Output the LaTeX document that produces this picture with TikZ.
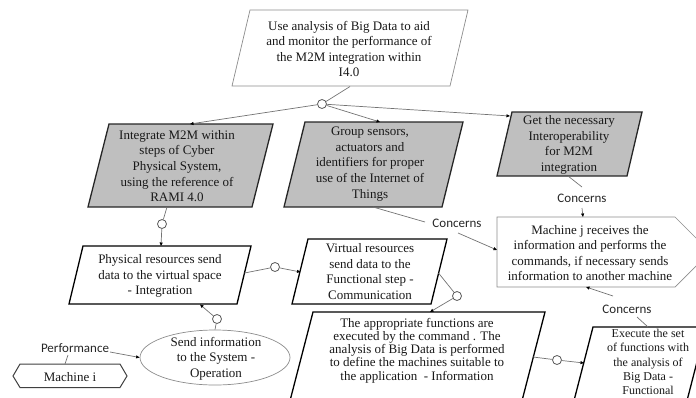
\documentclass[tikz,border=0pt]{standalone}
\usepackage{fontspec}
\setmainfont{Liberation Serif}
\newfontfamily\carlfont{Carlito}
\usetikzlibrary{arrows.meta,shapes.geometric}
\definecolor{boxgray}{RGB}{191,191,191}
\begin{document}
\begin{tikzpicture}[x=1pt,y=-1pt,
  txt/.style={align=center, inner sep=0pt, font=\fontsize{13}{15.6}\selectfont, text=black!90},
  gbox/.style={fill=boxgray, draw=black!85, line width=1.3pt, line join=miter},
  wbox/.style={fill=white, draw=black, line width=1.3pt},
  lbox/.style={fill=white, draw=black!45, line width=0.7pt},
  conn/.style={draw=black!55, line width=0.7pt},
  arr/.style={conn, -{Triangle[length=3.5pt,width=3pt,color=black]}},
  junc/.style={circle, draw=black!65, fill=white, line width=0.8pt, minimum size=9pt, inner sep=0pt},
  lab/.style={font=\carlfont\fontsize{13}{15}\selectfont, inner sep=1pt, text=black!85}
]
\useasboundingbox (0,0) rectangle (696,397);
\clip (0,0) rectangle (696,397);

% ---------- boxes ----------
\draw[lbox] (250,10) -- (468,10) -- (450,86) -- (232,86) -- cycle;
\node[txt] (top) at (349,49) {Use analysis of Big Data to aid\\and monitor the performance of\\the M2M integration within\\I4.0};

\draw[gbox] (109,124) -- (273,124) -- (252,207) -- (88,207) -- cycle;
\node[txt] (b1) at (177,166) {Integrate M2M within\\steps of Cyber\\Physical System,\\using the reference of\\RAMI 4.0};

\draw[gbox] (305,122) -- (463,122) -- (442,207) -- (284,207) -- cycle;
\node[txt] (b2) at (370,164) {Group sensors,\\actuators and\\identifiers for proper\\use of the Internet of\\Things};

\draw[gbox] (512,112) -- (642,112) -- (627,176) -- (497,176) -- cycle;
\node[txt] (b3) at (569,145) {Get the necessary\\Interoperability\\for M2M\\integration};

\draw[wbox] (83,246) -- (251,246) -- (237,304) -- (69,304) -- cycle;
\node[txt] (b4) at (160,276) {Physical resources send\\data to the virtual space\\- Integration};

\draw[wbox] (308,239) -- (447,239) -- (431,304) -- (292,304) -- cycle;
\node[txt] (b5) at (370,271.5) {Virtual resources\\send data to the\\Functional step -\\Communication};

\draw[wbox] (313,312) -- (545,312) -- (517,420) -- (285,420) -- cycle;
\node[txt, font=\fontsize{13}{13.2}\selectfont] (b6) at (417,350.5) {The appropriate functions are\\executed by the command . The\\analysis of Big Data is performed\\to define the machines suitable to\\the application \ - Information};

\draw[wbox] (593,327) -- (706,327) -- (682,420) -- (569,420) -- cycle;
\node[txt, font=\fontsize{12}{14.3}\selectfont] (b7) at (648,362) {Execute the set\\of functions with\\the analysis of\\Big Data -\\Functional};

\draw[lbox] (497,217) -- (675,217) -- (710,252) -- (675,287) -- (497,287) -- cycle;
\node[txt] (mj) at (590,253) {Machine j receives the\\information and performs the\\commands, if necessary sends\\information to another machine};

\node[lbox, ellipse, minimum width=150pt, minimum height=55pt, inner sep=0pt] (ell) at (215,357.5) {};
\node[txt] (ellt) at (216,358.5) {Send information\\to the System -\\Operation};

\draw[fill=white, draw=black!75, line width=1pt] (13,376) -- (20,364) -- (120,364) -- (127,376) -- (120,387.5) -- (20,387.5) -- cycle;
\node[txt] (mi) at (70,377) {Machine i};

% ---------- labels ----------
\node[lab] (c1) at (457,223) {Concerns};
\node[lab] (c2) at (582,198) {Concerns};
\node[lab] (c3) at (627,309) {Concerns};
\node[lab] (perf) at (75,348) {Performance};

% ---------- junctions ----------
\node[junc] (J1) at (322,104) {};
\node[junc] (J2) at (162,224) {};
\node[junc] (J3) at (275,267) {};
\node[junc] (J4) at (457,296) {};
\node[junc] (J5) at (557,360) {};
\node[junc] (J6) at (217,319) {};

% ---------- connector end points ----------
\coordinate (topS) at (350,86.5);
\coordinate (b1N) at (190,124);
\coordinate (b2N) at (380,122);
\coordinate (b3W) at (510,116);
\coordinate (b1S) at (167,207);
\coordinate (b4N) at (161,246);
\coordinate (b4E) at (244.5,273);
\coordinate (b5W) at (300.5,272);
\coordinate (b5E) at (438.5,273);
\coordinate (b6N) at (430,312);
\coordinate (b6E) at (533,357);
\coordinate (b7W) at (584,363);
\coordinate (b4S) at (200,304.5);
\coordinate (miN) at (65,364);
\coordinate (perfS) at (68,355);
\coordinate (perfE) at (110,352);
\coordinate (b2S) at (373,207);
\coordinate (c1W) at (425,222);
\coordinate (c1S) at (458,233);
\coordinate (mjW) at (497,250);
\coordinate (b3S) at (568,176);
\coordinate (c2N) at (582,187);
\coordinate (c2S) at (582,208);
\coordinate (mjN) at (583,217);
\coordinate (b7N) at (648,327);
\coordinate (c3E) at (637,317);
\coordinate (c3N) at (613,296);
\coordinate (mjS) at (586,287);

% ---------- connectors ----------
\draw[conn] (topS) -- (J1);
\draw[arr] (J1) -- (b1N);
\draw[arr] (J1) -- (b2N);
\draw[arr] (J1) -- (b3W);
\draw[conn] (b1S) -- (J2);
\draw[arr] (J2) -- (b4N);
\draw[conn] (b4E) -- (J3);
\draw[arr] (J3) -- (b5W);
\draw[conn] (b5E) -- (J4);
\draw[arr] (J4) -- (b6N);
\draw[conn] (b6E) -- (J5);
\draw[arr] (J5) -- (b7W);
\draw[conn] (ell.north) -- (J6);
\draw[arr] (J6) -- (b4S);
\draw[conn] (miN) -- (perfS);
\draw[arr] (perfE) -- (ell.west);
\draw[conn] (b2S) -- (c1W);
\draw[arr] (c1S) -- (mjW);
\draw[conn] (b3S) -- (c2N);
\draw[arr] (c2S) -- (mjN);
\draw[conn] (b7N) -- (c3E);
\draw[arr] (c3N) -- (mjS);
\end{tikzpicture}
\end{document}
